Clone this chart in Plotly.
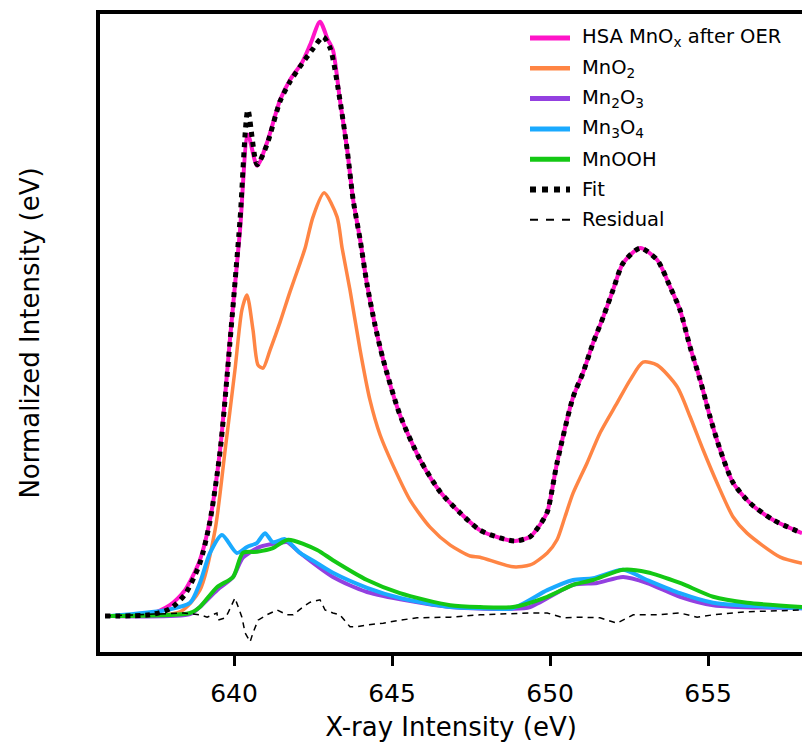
import plotly.graph_objects as go

# ---------------- data ----------------
hsa_e = [635.92, 637.34, 637.97, 638.45, 638.92, 639.24, 639.56, 639.87, 640.19, 640.44,
         640.73, 641.04, 641.46, 641.77, 642.15, 642.41, 642.72, 642.97, 643.13, 643.35,
         643.58, 643.77, 643.99, 644.21, 644.46, 644.72, 645.25, 645.89, 646.52, 647.15,
         647.78, 648.42, 648.89, 649.37, 649.68, 649.91, 650.22, 650.73, 651.04, 651.36,
         651.68, 651.99, 652.31, 652.85, 653.39, 653.80, 654.11, 654.43, 654.75, 655.06,
         655.38, 655.79, 656.33, 657.06, 657.97]
hsa_i = [0.0, 0.003, 0.018, 0.043, 0.093, 0.160, 0.277, 0.460, 0.643, 0.802,
         0.750, 0.788, 0.860, 0.893, 0.922, 0.952, 0.990, 0.960, 0.943, 0.860,
         0.777, 0.693, 0.627, 0.552, 0.485, 0.427, 0.335, 0.260, 0.207, 0.172,
         0.143, 0.130, 0.125, 0.132, 0.152, 0.173, 0.255, 0.365, 0.405, 0.455,
         0.498, 0.543, 0.588, 0.613, 0.593, 0.548, 0.510, 0.448, 0.393, 0.332,
         0.277, 0.222, 0.188, 0.160, 0.138]

fit_e = [635.92, 637.34, 637.97, 638.45, 638.92, 639.24, 639.56, 639.87, 640.19, 640.44,
         640.73, 641.04, 641.46, 641.77, 642.15, 642.47, 642.82, 643.05, 643.35,
         643.58, 643.77, 643.99, 644.21, 644.46, 644.72, 645.25, 645.89, 646.52, 647.15,
         647.78, 648.42, 648.89, 649.37, 649.68, 649.91, 650.22, 650.73, 651.04, 651.36,
         651.68, 651.99, 652.31, 652.85, 653.39, 653.80, 654.11, 654.43, 654.75, 655.06,
         655.38, 655.79, 656.33, 657.06, 657.97]
fit_i = [0.0, 0.002, 0.012, 0.036, 0.088, 0.158, 0.275, 0.455, 0.660, 0.843,
         0.752, 0.785, 0.858, 0.890, 0.920, 0.943, 0.965, 0.945, 0.860,
         0.777, 0.693, 0.627, 0.552, 0.485, 0.427, 0.335, 0.260, 0.207, 0.172,
         0.143, 0.130, 0.125, 0.132, 0.152, 0.173, 0.255, 0.365, 0.405, 0.455,
         0.498, 0.543, 0.588, 0.613, 0.593, 0.548, 0.510, 0.448, 0.393, 0.332,
         0.277, 0.222, 0.188, 0.160, 0.138]

mno2_e = [635.92, 638.29, 638.92, 639.40, 639.72, 640.03, 640.25, 640.41, 640.60, 640.76,
          640.92, 641.14, 641.46, 641.77, 642.09, 642.25, 642.50, 642.85, 643.26, 643.42,
          643.67, 643.99, 644.30, 644.62, 645.10, 645.57, 646.20, 646.84, 647.47, 647.78,
          648.83, 649.37, 649.91, 650.22, 650.47, 650.73, 651.17, 651.58, 652.12, 652.53,
          652.94, 653.39, 654.02, 654.43, 654.84, 655.28, 655.79, 656.23, 657.28, 657.97]
mno2_i = [0.0, 0.007, 0.043, 0.143, 0.277, 0.410, 0.510, 0.535, 0.477, 0.418,
          0.413, 0.443, 0.490, 0.540, 0.588, 0.613, 0.665, 0.705, 0.665, 0.613,
          0.543, 0.443, 0.360, 0.302, 0.243, 0.193, 0.148, 0.118, 0.100, 0.098,
          0.082, 0.085, 0.105, 0.127, 0.165, 0.205, 0.255, 0.305, 0.355, 0.393,
          0.423, 0.418, 0.382, 0.332, 0.277, 0.222, 0.165, 0.138, 0.098, 0.088]

mn2o3_e = [636.08, 638.61, 638.92, 639.46, 639.97, 640.28, 640.82, 641.46, 641.68, 642.09,
           643.13, 644.21, 646.84, 648.83, 649.37, 650.73, 651.49, 652.31, 653.07, 654.11,
           655.16, 657.97]
mn2o3_i = [0.0, 0.003, 0.015, 0.043, 0.065, 0.097, 0.115, 0.122, 0.123, 0.105,
           0.065, 0.040, 0.015, 0.012, 0.015, 0.052, 0.055, 0.065, 0.055, 0.032,
           0.018, 0.013]

mn3o4_e = [636.08, 637.88, 638.61, 638.92, 639.24, 639.62, 640.09, 640.41, 640.73, 640.98,
           641.23, 641.61, 642.09, 642.63, 643.13, 644.21, 645.25, 646.84, 647.78, 648.83,
           649.91, 650.73, 651.36, 652.31, 653.07, 654.11, 655.16, 657.97]
mn3o4_i = [0.0, 0.010, 0.022, 0.055, 0.105, 0.135, 0.105, 0.115, 0.122, 0.138,
           0.123, 0.128, 0.105, 0.088, 0.072, 0.047, 0.030, 0.015, 0.013, 0.013,
           0.043, 0.060, 0.063, 0.077, 0.060, 0.038, 0.022, 0.013]

mnooh_e = [636.08, 638.61, 638.92, 639.46, 639.97, 640.28, 640.73, 641.23, 641.71, 642.63,
           643.13, 644.21, 645.25, 646.84, 647.78, 648.83, 649.91, 650.73, 651.36, 652.31,
           653.07, 654.11, 655.16, 656.23, 657.97]
mnooh_i = [0.0, 0.005, 0.015, 0.048, 0.065, 0.105, 0.107, 0.113, 0.127, 0.110,
           0.093, 0.060, 0.038, 0.018, 0.015, 0.015, 0.032, 0.052, 0.060, 0.077,
           0.073, 0.055, 0.032, 0.022, 0.015]

resid_e = [635.92, 638.39, 638.92, 639.15, 639.46, 639.49, 639.72, 639.81, 640.03, 640.13,
           640.25, 640.35, 640.51, 640.60, 640.76, 641.04, 641.36, 641.68, 641.87, 642.18,
           642.41, 642.72, 642.88, 643.13, 643.35, 643.67, 643.89, 644.21, 644.72, 645.25,
           645.79, 646.84, 647.78, 649.37, 649.91, 650.41, 650.95, 651.58, 652.12, 652.63,
           653.39, 654.11, 654.65, 655.16, 656.23, 657.97]
resid_i = [0.0, 0.005, 0.002, -0.002, 0.005, -0.007, -0.003, 0.005, 0.030, 0.015,
           -0.002, -0.028, -0.043, -0.028, -0.007, 0.002, 0.010, 0.002, 0.002, 0.015,
           0.023, 0.027, 0.010, 0.005, 0.002, -0.018, -0.018, -0.015, -0.012, -0.007,
           -0.003, -0.002, 0.002, 0.005, 0.005, -0.003, -0.002, -0.003, -0.012, 0.002,
           0.002, 0.005, -0.002, 0.002, 0.007, 0.010]

x_ticks = [640, 645, 650, 655]
x_range = [635.76, 657.97]
y_range = [-0.060, 1.003]

series_names = ["HSA MnO<sub>x</sub> after OER", "MnO<sub>2</sub>", "Mn<sub>2</sub>O<sub>3</sub>",
                "Mn<sub>3</sub>O<sub>4</sub>", "MnOOH", "Fit", "Residual"]
series_colors = ["#FF14C8", "#FF8544", "#9340E0", "#1AAAFF", "#14C814", "#000000", "#000000"]
series_widths = [4, 3.5, 4, 4, 4, 5, 1.5]
series_dash = ["solid", "solid", "solid", "solid", "solid", "dot", "6px,5px"]

xs = [hsa_e, mno2_e, mn2o3_e, mn3o4_e, mnooh_e, fit_e, resid_e]
ys = [hsa_i, mno2_i, mn2o3_i, mn3o4_i, mnooh_i, fit_i, resid_i]

fig = go.Figure()
for k in range(7):
    fig.add_trace(go.Scatter(
        x=xs[k], y=ys[k], mode="lines", name=series_names[k],
        line=dict(color=series_colors[k], width=series_widths[k], dash=series_dash[k],
                  shape="spline" if k != 6 else "linear", smoothing=0.7),
        showlegend=False))

# manual legend (paper coordinates)
W_L, W_R, H_T, H_B = 100, 802, 14, 652
def px2paper(px):
    return (px - W_L) / (W_R - W_L)
def py2paper(py):
    return (H_B - py) / (H_B - H_T)

for k in range(7):
    yy = py2paper(38 + 30.3 * k)
    fig.add_shape(type="line", xref="paper", yref="paper",
                  x0=px2paper(530), x1=px2paper(570), y0=yy, y1=yy,
                  line=dict(color=series_colors[k], width=series_widths[k] + 1 if k != 6 else 2,
                            dash=series_dash[k] if k != 6 else "8px,8px"))
    fig.add_annotation(xref="paper", yref="paper", x=px2paper(580), y=yy,
                       text=series_names[k], showarrow=False, xanchor="left", yanchor="middle",
                       font=dict(size=19.5, color="black"))

FONT = "DejaVu Sans"
fig.update_layout(
    width=802, height=744,
    margin=dict(l=W_L, r=0, t=H_T, b=744 - H_B),
    paper_bgcolor="white", plot_bgcolor="white",
    font=dict(family=FONT, color="black"),
    xaxis=dict(range=x_range, tickvals=x_ticks, ticks="outside", ticklen=10, tickwidth=3,
               tickcolor="black", showline=True, linewidth=4, linecolor="black", mirror=True,
               showgrid=False, zeroline=False, tickfont=dict(size=25, family=FONT),
               ticklabelstandoff=6,
               title=dict(text="X-ray Intensity (eV)", font=dict(size=26, family=FONT), standoff=12)),
    yaxis=dict(range=y_range, showticklabels=False, ticks="", showline=True, linewidth=4,
               linecolor="black", mirror=False, showgrid=False, zeroline=False,
               title=dict(text="Normalized Intensity (eV)", font=dict(size=26, family=FONT), standoff=50)),
)

fig.write_html("out.html", config={"displayModeBar": False},
               post_script="document.body.style.margin='0px';")
